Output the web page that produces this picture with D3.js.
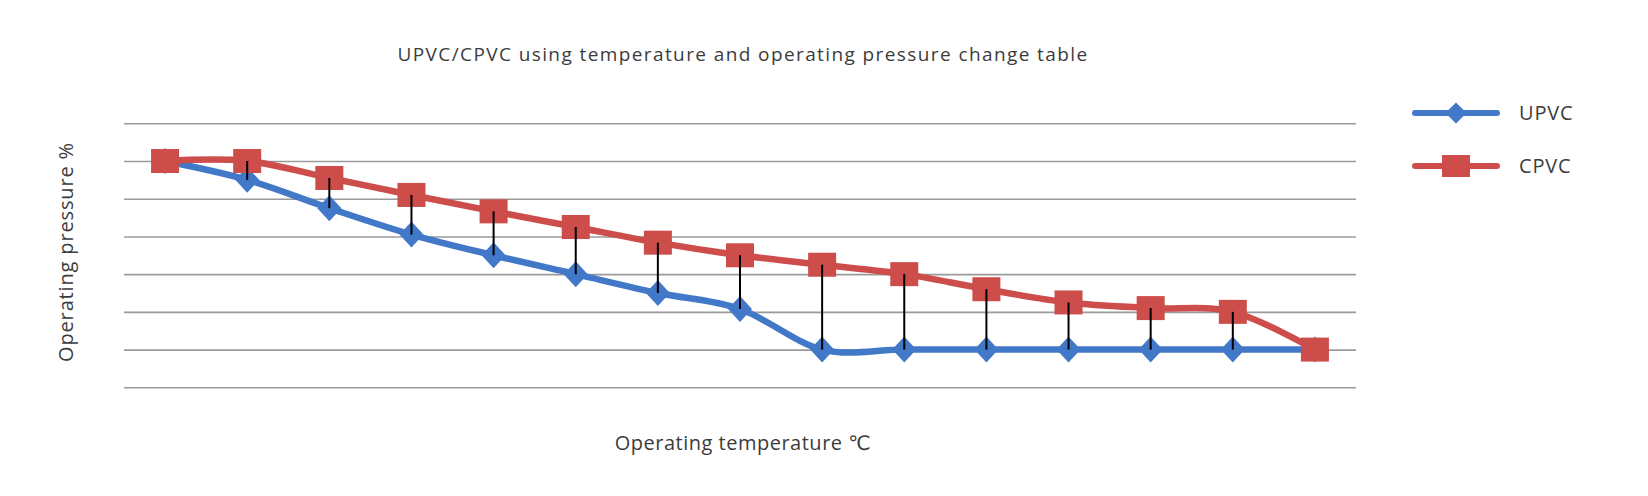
<!DOCTYPE html>
<html>
<head>
<meta charset="utf-8">
<script src="https://cdn.jsdelivr.net/npm/d3@7"></script>
<style>
  html, body { margin: 0; padding: 0; background: #fff; }
  text { font-family: "Open Sans", "DejaVu Sans", sans-serif; fill: #3c3c3c; }
</style>
</head>
<body>
<svg id="chart" width="1648" height="496"></svg>
<script>
const temperatures = ["20","25","30","35","40","45","50","55","60","65","70","75","80","85","90"];
const upvc = [120, 110, 95, 81, 70, 60, 50, 41.5, 20, 20, 20, 20, 20, 20, 20];
const cpvc = [120, 120, 111, 102, 93.3, 85, 76.7, 70, 65, 60, 52, 45, 42, 40, 20];
const yTicks = [0, 20, 40, 60, 80, 100, 120, 140];
const seriesNames = ["UPVC", "CPVC"];

(function () {
const blue = "#4278c8", red = "#cc4d49";
const svg = d3.select("#chart");
const pLeft = 124, pRight = 1356, pTop = 123.3, pBottom = 387.3;

const x = d3.scalePoint().domain(temperatures).range([pLeft, pRight]).padding(0.5);
const y = d3.scaleLinear().domain([0, 140]).range([pBottom, pTop]);

// gridlines
svg.append("g")
  .attr("transform", `translate(${pLeft},0)`)
  .call(d3.axisLeft(y).tickValues(yTicks).tickSize(-(pRight - pLeft)).tickFormat(""))
  .call(g => g.select(".domain").remove())
  .call(g => g.selectAll(".tick line").attr("stroke", "#9a9a9a").attr("stroke-width", 1.6));

const line = d3.line().x((d, i) => x(temperatures[i])).y(d => y(d)).curve(d3.curveCardinal.tension(0));

// UPVC
svg.append("path").datum(upvc).attr("d", line)
  .attr("fill", "none").attr("stroke", blue).attr("stroke-width", 6.5)
  .attr("stroke-linejoin", "round").attr("stroke-linecap", "round");
const diamond = (cx, cy, w, h) => `M${cx},${cy - h/2}L${cx + w/2},${cy}L${cx},${cy + h/2}L${cx - w/2},${cy}Z`;
svg.append("g").selectAll("path").data(upvc).join("path")
  .attr("d", (d, i) => diamond(x(temperatures[i]), y(d), 24, 26))
  .attr("fill", blue);

// CPVC
svg.append("path").datum(cpvc).attr("d", line)
  .attr("fill", "none").attr("stroke", red).attr("stroke-width", 6.5)
  .attr("stroke-linejoin", "round").attr("stroke-linecap", "round");
svg.append("g").selectAll("rect").data(cpvc).join("rect")
  .attr("x", (d, i) => x(temperatures[i]) - 14)
  .attr("y", d => y(d) - 12)
  .attr("width", 28).attr("height", 24)
  .attr("fill", red);

// high-low drop lines
svg.append("g").selectAll("line").data(temperatures).join("line")
  .attr("x1", t => x(t)).attr("x2", t => x(t))
  .attr("y1", (t, i) => y(cpvc[i])).attr("y2", (t, i) => y(upvc[i]))
  .attr("stroke", "#000").attr("stroke-width", 2);

// title
svg.append("text").attr("x", 743).attr("y", 61).attr("text-anchor", "middle")
  .attr("font-size", 19).attr("letter-spacing", 1.4)
  .text("UPVC/CPVC using temperature and operating pressure change table");

// axis titles
svg.append("text").attr("x", 743).attr("y", 450).attr("text-anchor", "middle")
  .attr("font-size", 20).attr("letter-spacing", 0.5).text("Operating temperature ℃");
svg.append("text").attr("transform", "translate(73,252) rotate(-90)").attr("text-anchor", "middle")
  .attr("font-size", 20).attr("letter-spacing", 0.85).text("Operating pressure %");

// legend
const legend = svg.append("g");
const legY = [113, 166];
const colors = [blue, red];
seriesNames.forEach((name, i) => {
  const g = legend.append("g");
  g.append("line").attr("x1", 1415).attr("x2", 1497).attr("y1", legY[i]).attr("y2", legY[i])
    .attr("stroke", colors[i]).attr("stroke-width", 6).attr("stroke-linecap", "round");
  if (i === 0) {
    g.append("path").attr("d", diamond(1456, legY[i], 21, 21)).attr("fill", blue);
  } else {
    g.append("rect").attr("x", 1442).attr("y", legY[i] - 11).attr("width", 28).attr("height", 22).attr("fill", red);
  }
  g.append("text").attr("x", 1519).attr("y", legY[i]).attr("dy", "0.36em")
    .attr("font-size", 20).attr("letter-spacing", 0.8).text(name);
});
})();
</script>
</body>
</html>
